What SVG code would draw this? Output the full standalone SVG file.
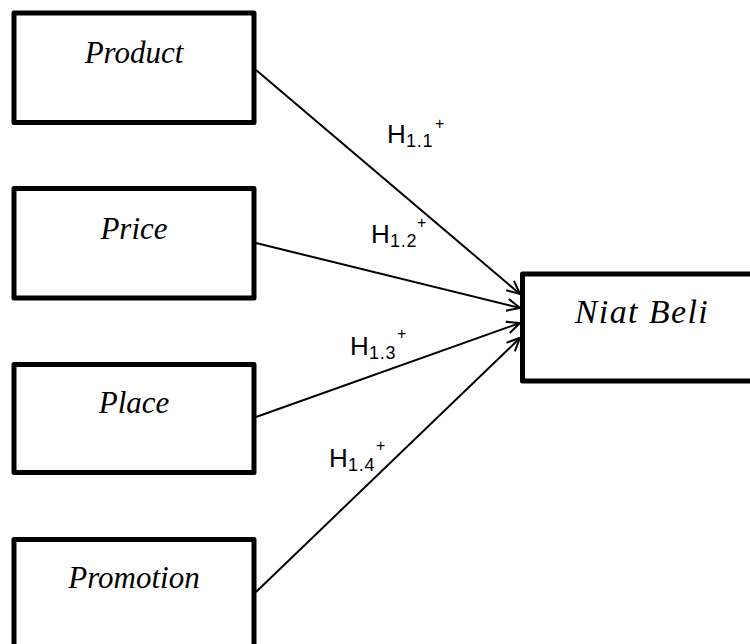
<svg xmlns="http://www.w3.org/2000/svg" width="750" height="644" viewBox="0 0 750 644">
<style>
.box{fill:#fff;stroke:#000;stroke-width:5;stroke-linejoin:round}
.nt{font-family:"Liberation Serif","Times New Roman",serif;font-style:italic;font-size:31px;fill:#000;text-anchor:middle}
.conn{fill:none;stroke:#000;stroke-width:2;marker-end:url(#arr)}
.lbl{font-family:"Liberation Sans",Arial,sans-serif;fill:#000}
.h{font-size:26px}
.sub{font-size:18px;letter-spacing:0.8px}
.sup{font-size:16px}
</style>
<defs>
<marker id="arr" viewBox="0 0 15 14" refX="14" refY="7" markerWidth="15" markerHeight="14" orient="auto" markerUnits="userSpaceOnUse">
<path d="M1,1 L14,7 L1,13" fill="none" stroke="#000" stroke-width="2"/>
</marker>
</defs>
<rect width="750" height="644" fill="#fff"/>
<g id="connectors">
<line class="conn" x1="256" y1="70" x2="520" y2="294"/>
<line class="conn" x1="256" y1="243" x2="520" y2="308"/>
<line class="conn" x1="256" y1="417" x2="520" y2="323"/>
<line class="conn" x1="256" y1="592" x2="520" y2="338"/>
</g>
<g id="product">
<rect class="box" x="14" y="13" width="240" height="109.5"/>
<text class="nt" x="134" y="63">Product</text>
</g>
<g id="price">
<rect class="box" x="14" y="188.5" width="240" height="109.5"/>
<text class="nt" x="134" y="239">Price</text>
</g>
<g id="place">
<rect class="box" x="14" y="364.5" width="240" height="108"/>
<text class="nt" x="134" y="413">Place</text>
</g>
<g id="promotion">
<rect class="box" x="14" y="539.5" width="240" height="109.5"/>
<text class="nt" x="134" y="588">Promotion</text>
</g>
<g id="niat-beli">
<rect class="box" x="522.5" y="274" width="238" height="107"/>
<text class="nt" x="642" y="323" style="font-size:34px;letter-spacing:1.4px">Niat Beli</text>
</g>
<g id="labels">
<text class="lbl"><tspan class="h" x="387" y="143">H</tspan><tspan class="sub" x="406" y="147">1.1</tspan><tspan class="sup" x="435" y="129">+</tspan></text>
<text class="lbl"><tspan class="h" x="371" y="243">H</tspan><tspan class="sub" x="390" y="247">1.2</tspan><tspan class="sup" x="417" y="228">+</tspan></text>
<text class="lbl"><tspan class="h" x="350" y="355">H</tspan><tspan class="sub" x="369" y="359">1.3</tspan><tspan class="sup" x="397" y="339">+</tspan></text>
<text class="lbl"><tspan class="h" x="329" y="467">H</tspan><tspan class="sub" x="348" y="471">1.4</tspan><tspan class="sup" x="376" y="451">+</tspan></text>
</g>
</svg>
